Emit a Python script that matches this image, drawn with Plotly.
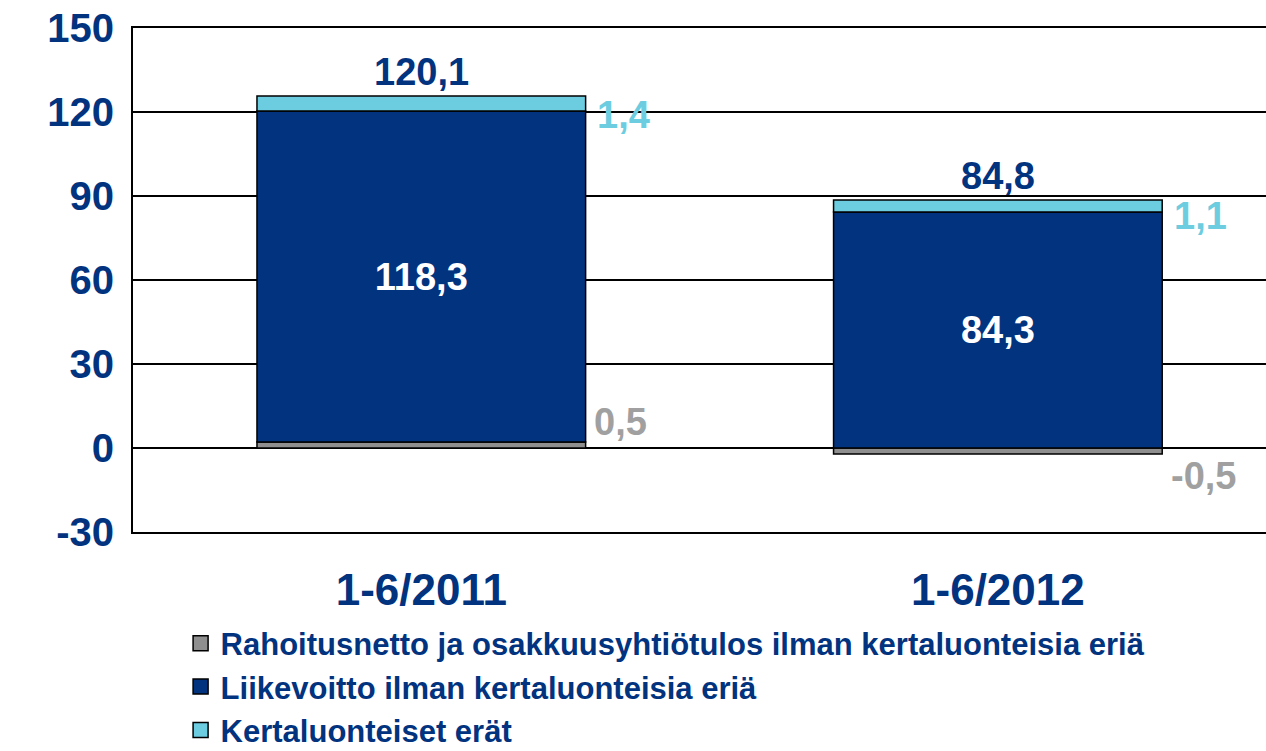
import plotly.graph_objects as go

categories = ["1-6/2011", "1-6/2012"]

# bar heights as drawn (small items are drawn enlarged in the original)
rahoitus = [2.1, -2.1]
liikevoitto = [118.3, 84.3]
kertaluonteiset = [5.3, 4.3]

# printed labels
rahoitus_labels = ["0,5", "-0,5"]
liikevoitto_labels = ["118,3", "84,3"]
kerta_labels = ["1,4", "1,1"]
total_labels = ["120,1", "84,8"]

y_ticks = [-30, 0, 30, 60, 90, 120, 150]
y_tick_labels = ["-30", "0", "30", "60", "90", "120", "150"]

series_names = [
    "Rahoitusnetto ja osakkuusyhtiötulos ilman kertaluonteisia eriä",
    "Liikevoitto ilman kertaluonteisia eriä",
    "Kertaluonteiset erät",
]

NAVY = "#02337F"
LIGHT = "#6DCDE0"
GREY = "#8F8F8F"
GREY_TXT = "#A0A0A0"
FONT = "Liberation Sans, Arial"

fig = go.Figure()

bar_line = dict(color="black", width=1.5)
fig.add_trace(
    go.Bar(x=categories, y=rahoitus, name=series_names[0],
           marker=dict(color=GREY, line=bar_line), showlegend=False)
)
fig.add_trace(
    go.Bar(
        x=categories, y=liikevoitto, name=series_names[1],
        marker=dict(color=NAVY, line=bar_line), showlegend=False,
        text=liikevoitto_labels, textposition="inside", insidetextanchor="middle",
        textangle=0,
        textfont=dict(color="white", size=38, family=FONT, weight="bold"),
    )
)
fig.add_trace(
    go.Bar(x=categories, y=kertaluonteiset, name=series_names[2],
           marker=dict(color=LIGHT, line=bar_line), showlegend=False)
)

# legend entries with square swatches
for name, color in zip(series_names, [GREY, NAVY, LIGHT]):
    fig.add_trace(
        go.Scatter(
            x=[None], y=[None], mode="markers", name=name,
            marker=dict(symbol="square", size=15, color=color,
                        line=dict(color="black", width=1.5)),
        )
    )

label_font = dict(size=38, family=FONT, weight="bold")
for i, cat in enumerate(categories):
    pos_base = max(rahoitus[i], 0)
    navy_top = pos_base + liikevoitto[i]
    top = navy_top + kertaluonteiset[i]
    fig.add_annotation(
        x=cat, y=top, text=total_labels[i], showarrow=False,
        yanchor="bottom", yshift=1, font=dict(label_font, color=NAVY),
    )
    fig.add_annotation(
        x=cat, y=navy_top, text=kerta_labels[i], showarrow=False,
        xanchor="left", xshift=174, yanchor="middle", yshift=-4,
        font=dict(label_font, color=LIGHT),
    )
    fig.add_annotation(
        x=cat, y=0, text=rahoitus_labels[i], showarrow=False,
        xanchor="left", xshift=171, yanchor="middle",
        yshift=26 if rahoitus[i] > 0 else -28,
        font=dict(label_font, color=GREY_TXT),
    )

fig.update_layout(
    barmode="relative",
    bargap=0.43,
    width=1266,
    height=751,
    margin=dict(l=133, r=0, t=28, b=219, autoexpand=False),
    paper_bgcolor="white",
    plot_bgcolor="white",
    font=dict(family=FONT, color=NAVY),
    showlegend=True,
    legend=dict(
        x=0.042, xanchor="left", y=-0.168, yanchor="top",
        traceorder="normal",
        font=dict(size=31, family=FONT, color=NAVY, weight="bold"),
        bgcolor="rgba(0,0,0,0)",
        itemsizing="trace",
    ),
)
fig.update_xaxes(
    range=[-0.5, 1.465],
    showline=True, linecolor="black", linewidth=2, mirror=True,
    tickfont=dict(size=44, color=NAVY, family=FONT, weight="bold"),
    ticklabelstandoff=18,
)
fig.update_yaxes(
    range=[-30, 150], tickvals=y_ticks, ticktext=y_tick_labels,
    showline=True, linecolor="black", linewidth=2,
    showgrid=True, gridcolor="black", gridwidth=2,
    zeroline=True, zerolinecolor="black", zerolinewidth=2,
    tickfont=dict(size=40, color=NAVY, family=FONT, weight="bold"),
    ticklabelstandoff=9,
)

fig.write_html(
    "out.html",
    config={"displayModeBar": False},
    post_script="document.body.style.margin='0';document.body.style.overflow='hidden';",
)
